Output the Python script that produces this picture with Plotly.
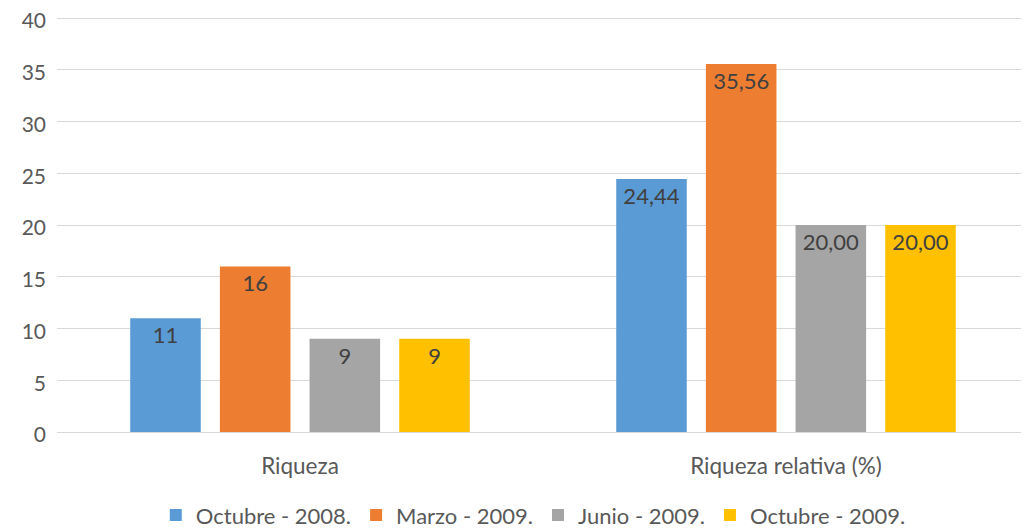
import plotly.graph_objects as go

categories = ["Riqueza", "Riqueza relativa (%)"]
series_names = ["Octubre - 2008.", "Marzo - 2009.", "Junio - 2009.", "Octubre - 2009."]
oct_2008 = [11, 24.44]
mar_2009 = [16, 35.56]
jun_2009 = [9, 20.00]
oct_2009 = [9, 20.00]
series_values = [oct_2008, mar_2009, jun_2009, oct_2009]
colors = ["#5B9BD5", "#ED7D31", "#A5A5A5", "#FFC000"]
y_ticks = [0, 5, 10, 15, 20, 25, 30, 35, 40]

FONT = "Lato, Open Sans, sans-serif"


def fmt(v, cat_index):
    if cat_index == 0:
        return f"{v:.0f}"
    return f"{v:.2f}".replace(".", ",")


fig = go.Figure()
for name, vals, col in zip(series_names, series_values, colors):
    fig.add_trace(go.Bar(
        name=name,
        x=categories,
        y=vals,
        marker=dict(color=col, line=dict(width=0)),
        text=[fmt(v, i) for i, v in enumerate(vals)],
        textposition="inside",
        insidetextanchor="end",
        textangle=0,
        textfont=dict(family=FONT, size=22, color="#404040"),
        cliponaxis=False,
    ))

fig.update_layout(
    width=1021,
    height=521,
    barmode="group",
    bargap=0.262,
    bargroupgap=0.213,
    plot_bgcolor="white",
    paper_bgcolor="white",
    margin=dict(l=49, r=0, t=8, b=97, autoexpand=False),
    font=dict(family=FONT, color="#595959"),
    legend=dict(
        orientation="h",
        x=0.49,
        xanchor="center",
        y=-0.2,
        yanchor="middle",
        font=dict(family=FONT, size=22, color="#595959"),
        itemwidth=30,
        tracegroupgap=0,
    ),
    xaxis=dict(
        automargin=False,
        showgrid=False,
        showline=True,
        linecolor="#D9D9D9",
        linewidth=1,
        tickfont=dict(family=FONT, size=22.5, color="#595959"),
        ticks="",
        ticklabelstandoff=14,
    ),
    yaxis=dict(
        automargin=False,
        range=[0, 40.2],
        tickvals=y_ticks,
        showgrid=True,
        gridcolor="#D9D9D9",
        gridwidth=1,
        zeroline=False,
        tickfont=dict(family=FONT, size=21, color="#595959"),
        ticks="",
        ticklabelstandoff=10,
        ticklabelshift=3,
        ticklabeloverflow="allow",
    ),
)

fig.write_html("out.html")
